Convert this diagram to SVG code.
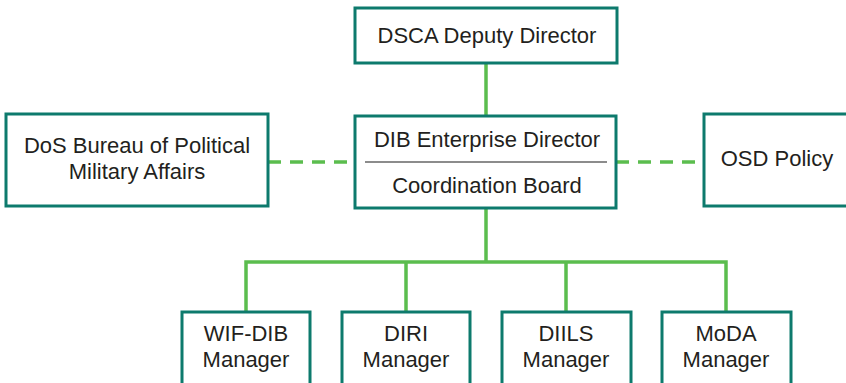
<svg xmlns="http://www.w3.org/2000/svg" width="846" height="383" viewBox="0 0 846 383">
<style>
.box{fill:#fff;stroke:#0d7a6d;stroke-width:3}
.t{font-family:"Liberation Sans",Arial,sans-serif;font-size:22px;fill:#231f20;text-anchor:middle}
.solid{fill:none;stroke:#5bbd4e;stroke-width:3.5}
.dash{fill:none;stroke:#5bbd4e;stroke-width:3.5;stroke-dasharray:13 9}
</style>
<rect width="846" height="383" fill="#fff"/>
<g id="connectors">
<path class="solid" d="M486 62V116"/>
<path class="solid" d="M486 208V262M246 312V262H726V312M406 262V312M566 262V312"/>
<path class="dash" d="M268 162H355"/>
<path class="dash" d="M616 162H704"/>
</g>
<g id="dsca">
<rect class="box" x="355" y="8" width="262" height="55"/>
<text class="t" x="487" y="43">DSCA Deputy Director</text>
</g>
<g id="dib">
<rect class="box" x="355" y="116" width="261" height="92"/>
<line x1="365" y1="162" x2="607" y2="162" stroke="#666" stroke-width="1.5"/>
<text class="t" x="487" y="147">DIB Enterprise Director</text>
<text class="t" x="487" y="193">Coordination Board</text>
</g>
<g id="dos">
<rect class="box" x="6" y="114" width="262" height="92"/>
<text class="t" x="137" y="153">DoS Bureau of Political</text>
<text class="t" x="137" y="179">Military Affairs</text>
</g>
<g id="osd">
<rect class="box" x="704" y="114" width="146" height="92"/>
<text class="t" x="777" y="166">OSD Policy</text>
</g>
<g id="wif">
<rect class="box" x="182" y="312" width="128" height="80"/>
<text class="t" x="246" y="341">WIF-DIB</text>
<text class="t" x="246" y="367">Manager</text>
</g>
<g id="diri">
<rect class="box" x="342" y="312" width="128" height="80"/>
<text class="t" x="406" y="341">DIRI</text>
<text class="t" x="406" y="367">Manager</text>
</g>
<g id="diils">
<rect class="box" x="502" y="312" width="129" height="80"/>
<text class="t" x="566" y="341">DIILS</text>
<text class="t" x="566" y="367">Manager</text>
</g>
<g id="moda">
<rect class="box" x="662" y="312" width="129" height="80"/>
<text class="t" x="726" y="341">MoDA</text>
<text class="t" x="726" y="367">Manager</text>
</g>
</svg>
